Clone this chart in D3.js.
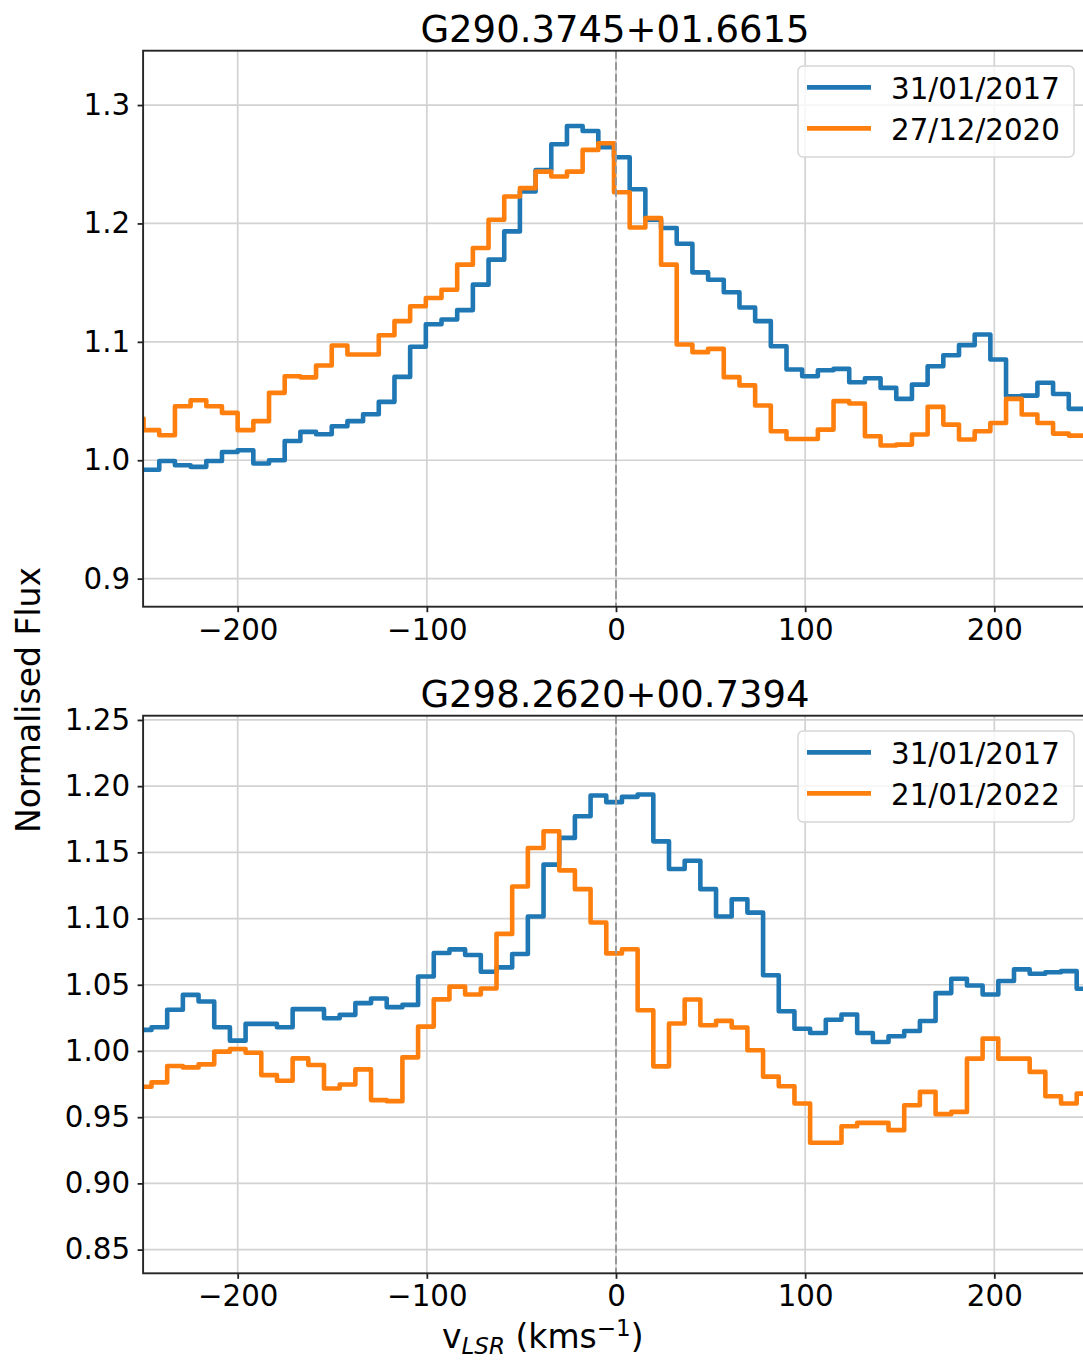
<!DOCTYPE html>
<html>
<head>
<meta charset="utf-8">
<script src="https://cdn.jsdelivr.net/npm/d3@7/dist/d3.min.js"></script>
<style>
  html, body { margin: 0; padding: 0; background: #ffffff; }
  svg { display: block; font-family: "DejaVu Sans", sans-serif; }
</style>
</head>
<body>
<svg id="chart" width="1083" height="1360"></svg>
<script>
// ---------------- DATA ----------------
const titles = ["G290.3745+01.6615", "G298.2620+00.7394"];
const legendTop = ["31/01/2017", "27/12/2020"];
const legendBottom = ["31/01/2017", "21/01/2022"];
const xTicks = [-200, -100, 0, 100, 200];
const yTicksTop = [0.9, 1.0, 1.1, 1.2, 1.3];
const yTicksBottom = [0.85, 0.90, 0.95, 1.00, 1.05, 1.10, 1.15, 1.20, 1.25];

// channel centre velocities (km/s), top source
const velTop = [-253.90, -245.61, -237.32, -229.03, -220.74, -212.45, -204.16, -195.87, -187.58, -179.29,
  -171.00, -162.71, -154.42, -146.13, -137.84, -129.55, -121.26, -112.97, -104.68, -96.39,
  -88.10, -79.81, -71.52, -63.23, -54.94, -46.65, -38.36, -30.07, -21.78, -13.49,
  -5.20, 3.09, 11.38, 19.67, 27.96, 36.25, 44.54, 52.83, 61.12, 69.41,
  77.70, 85.99, 94.28, 102.57, 110.86, 119.15, 127.44, 135.73, 144.02, 152.31,
  160.60, 168.89, 177.18, 185.47, 193.76, 202.05, 210.34, 218.63, 226.92, 235.21, 243.50];
const fluxTopA = [0.992, 0.992, 0.9994, 0.9958, 0.9944, 0.9994, 1.007, 1.0085, 0.9972, 1.000,
  1.0163, 1.024, 1.022, 1.0287, 1.033, 1.0389, 1.0493, 1.0704, 1.0958, 1.1149,
  1.1189, 1.1268, 1.1483, 1.1694, 1.1933, 1.227, 1.2452, 1.2669, 1.2823, 1.2781,
  1.2643, 1.2559, 1.2289, 1.2031, 1.1961, 1.1829, 1.1587, 1.1525, 1.1419, 1.1290,
  1.1175, 1.0963, 1.0766, 1.071, 1.076, 1.0772, 1.0659, 1.0693, 1.0611, 1.0518,
  1.0639, 1.0794, 1.0887, 1.0972, 1.1062, 1.0851, 1.0541, 1.0546, 1.0654, 1.056, 1.0434];
const fluxTopB = [1.0352, 1.0254, 1.0211, 1.0456, 1.0507, 1.0456, 1.040, 1.0254, 1.033, 1.0569,
  1.071, 1.070, 1.080, 1.0969, 1.0893, 1.0893, 1.1056, 1.1175, 1.130, 1.137,
  1.1440, 1.1652, 1.1792, 1.2031, 1.2228, 1.2298, 1.2438, 1.2396, 1.2438, 1.2621,
  1.2677, 1.2264, 1.1966, 1.2045, 1.1652, 1.0978, 1.0913, 1.0941, 1.0702, 1.0632,
  1.0462, 1.0245, 1.018, 1.018, 1.0259, 1.0499, 1.0479, 1.0203, 1.0124, 1.0132,
  1.0217, 1.0451, 1.0301, 1.0175, 1.0245, 1.0315, 1.0518, 1.0386, 1.0315, 1.0225, 1.0208];

// channel centre velocities (km/s), bottom source
const velBottom = [-249.70, -241.41, -233.12, -224.83, -216.54, -208.25, -199.96, -191.67, -183.38, -175.09,
  -166.80, -158.51, -150.22, -141.93, -133.64, -125.35, -117.06, -108.77, -100.48, -92.19,
  -83.90, -75.61, -67.32, -59.03, -50.74, -42.45, -34.16, -25.87, -17.58, -9.29,
  -1.00, 7.29, 15.58, 23.87, 32.16, 40.45, 48.74, 57.03, 65.32, 73.61,
  81.90, 90.19, 98.48, 106.77, 115.06, 123.35, 131.64, 139.93, 148.22, 156.51,
  164.80, 173.09, 181.38, 189.67, 197.96, 206.25, 214.54, 222.83, 231.12, 239.41, 247.70];
const fluxBottomA = [1.0159, 1.0179, 1.0311, 1.0424, 1.0374, 1.0179, 1.0078, 1.0205, 1.0205, 1.0179,
  1.0316, 1.0316, 1.0247, 1.0273, 1.0361, 1.0396, 1.0331, 1.0348, 1.0563, 1.0740,
  1.0767, 1.0725, 1.0598, 1.0631, 1.0732, 1.1015, 1.1407, 1.1609, 1.1773, 1.1929,
  1.1879, 1.1919, 1.1937, 1.1583, 1.1374, 1.1437, 1.1222, 1.1015, 1.1146, 1.1045,
  1.0572, 1.0300, 1.0168, 1.0136, 1.0236, 1.0276, 1.0136, 1.0068, 1.0111, 1.0151,
  1.0226, 1.0437, 1.0545, 1.0495, 1.0427, 1.0528, 1.0616, 1.0583, 1.0595, 1.0603, 1.0470];
const fluxBottomB = [0.9730, 0.9763, 0.9886, 0.9876, 0.9899, 0.9995, 1.0015, 0.9987, 0.9818, 0.9775,
  0.9944, 0.9894, 0.9717, 0.9747, 0.9861, 0.9629, 0.9621, 0.9952, 1.0184, 1.0390,
  1.0486, 1.0427, 1.0472, 1.0884, 1.1242, 1.1533, 1.1659, 1.1364, 1.1222, 1.0970,
  1.0737, 1.0768, 1.0308, 0.9884, 1.0207, 1.0389, 1.0194, 1.0227, 1.0177, 1.0005,
  0.9806, 0.9734, 0.9603, 0.9307, 0.9307, 0.9432, 0.9457, 0.9457, 0.9402, 0.9590,
  0.9691, 0.9523, 0.9540, 0.9942, 1.0093, 0.9942, 0.9942, 0.9842, 0.9658, 0.9603, 0.9678];

// ---------------- LAYOUT / STYLE ----------------
const colors = ["#1f77b4", "#ff7f0e"];
const FONT = 29.3;
const xDomain = [-250, 250];
const panels = [
  { title: titles[0], vel: velTop, series: [fluxTopA, fluxTopB], labels: legendTop,
    top: 50.7, bottom: 606.7, yDomain: [0.8763, 1.3459], yTicks: yTicksTop, fmt: ".1f" },
  { title: titles[1], vel: velBottom, series: [fluxBottomA, fluxBottomB], labels: legendBottom,
    top: 715.7, bottom: 1273.3, yDomain: [0.8321, 1.2532], yTicks: yTicksBottom, fmt: ".2f" }
];
const left = 143.1, right = 1088.9;

const svg = d3.select("#chart");
svg.append("rect").attr("width", 1083).attr("height", 1360).attr("fill", "#fff");

function stepPoints(vel, flux) {
  const n = vel.length;
  const edges = [];
  edges.push(vel[0] - (vel[1] - vel[0]) / 2);
  for (let i = 1; i < n; i++) edges.push((vel[i - 1] + vel[i]) / 2);
  edges.push(vel[n - 1] + (vel[n - 1] - vel[n - 2]) / 2);
  const pts = flux.map((f, i) => [edges[i], f]);
  pts.push([edges[n], flux[n - 1]]);
  return pts;
}

panels.forEach((p, pi) => {
  const x = d3.scaleLinear().domain(xDomain).range([left, right]);
  const y = d3.scaleLinear().domain(p.yDomain).range([p.bottom, p.top]);
  const g = svg.append("g");

  const clipId = "clip" + pi;
  svg.append("clipPath").attr("id", clipId)
    .append("rect").attr("x", left).attr("y", p.top)
    .attr("width", right - left).attr("height", p.bottom - p.top);

  // grid
  const grid = g.append("g").attr("stroke", "#d2d2d2").attr("stroke-width", 1.7);
  xTicks.forEach(t => grid.append("line")
    .attr("x1", x(t)).attr("x2", x(t)).attr("y1", p.top).attr("y2", p.bottom));
  p.yTicks.forEach(t => grid.append("line")
    .attr("x1", left).attr("x2", right).attr("y1", y(t)).attr("y2", y(t)));

  // series
  const line = d3.line().x(d => x(d[0])).y(d => y(d[1])).curve(d3.curveStepAfter);
  const lg = g.append("g").attr("clip-path", `url(#${clipId})`);
  p.series.forEach((s, si) => {
    lg.append("path")
      .attr("d", line(stepPoints(p.vel, s)))
      .attr("fill", "none")
      .attr("stroke", colors[si])
      .attr("stroke-width", 4.6)
      .attr("stroke-linejoin", "round")
      .attr("stroke-linecap", "square");
  });

  // zero velocity dashed line
  g.append("line")
    .attr("x1", x(0)).attr("x2", x(0)).attr("y1", p.top).attr("y2", p.bottom)
    .attr("stroke", "#999999").attr("stroke-width", 2)
    .attr("stroke-dasharray", "8,3.5");

  // axes
  const xAxis = d3.axisBottom(x).tickValues(xTicks).tickSize(5.5).tickPadding(6.9)
    .tickFormat(d3.format("d"));
  const yAxis = d3.axisLeft(y).tickValues(p.yTicks).tickSize(5.5).tickPadding(7.5)
    .tickFormat(d3.format(p.fmt));
  const gx = g.append("g").attr("transform", `translate(0,${p.bottom})`).call(xAxis);
  const gy = g.append("g").attr("transform", `translate(${left},0)`).call(yAxis);
  [gx, gy].forEach(a => {
    a.select(".domain").remove();
    a.selectAll(".tick line").attr("stroke", "#222").attr("stroke-width", 1.8);
    a.selectAll(".tick text").attr("fill", "#000").style("font-size", FONT + "px")
      .style("font-family", "'DejaVu Sans', sans-serif");
  });

  // frame
  g.append("rect").attr("x", left).attr("y", p.top)
    .attr("width", right - left).attr("height", p.bottom - p.top)
    .attr("fill", "none").attr("stroke", "#262626").attr("stroke-width", 1.9);

  // title
  g.append("text").attr("x", (left + right) / 2 - 1).attr("y", p.top - 9)
    .attr("text-anchor", "middle").style("font-size", "37px").attr("fill", "#000")
    .text(p.title);

  // legend
  const lgx = 798, lgy = p.top + 15.3;
  const leg = g.append("g");
  leg.append("rect").attr("x", lgx).attr("y", lgy).attr("width", 276).attr("height", 91)
    .attr("rx", 5).attr("fill", "#fff").attr("fill-opacity", 0.8)
    .attr("stroke", "#d6d6d6").attr("stroke-width", 1.5);
  p.labels.forEach((lab, i) => {
    const ly = lgy + 21.4 + i * 41;
    leg.append("line").attr("x1", 807).attr("x2", 871).attr("y1", ly).attr("y2", ly)
      .attr("stroke", colors[i]).attr("stroke-width", 4.6);
    leg.append("text").attr("x", 891).attr("y", ly + 11.2)
      .style("font-size", FONT + "px").attr("fill", "#000").text(lab);
  });
});

// y label
svg.append("text")
  .attr("transform", "translate(40,700) rotate(-90)")
  .attr("text-anchor", "middle").style("font-size", "33px").attr("fill", "#000")
  .text("Normalised Flux");

// x label with subscript / superscript
const xl = svg.append("text").attr("x", 442).attr("y", 1348)
  .style("font-size", "33px").attr("fill", "#000");
xl.append("tspan").text("v");
xl.append("tspan").attr("dy", 6).style("font-size", "23px").style("font-style", "italic").text("LSR");
xl.append("tspan").attr("dy", -6).text(" (kms");
xl.append("tspan").attr("dy", -12).style("font-size", "23px").text("\u22121");
xl.append("tspan").attr("dy", 12).text(")");
</script>
</body>
</html>
